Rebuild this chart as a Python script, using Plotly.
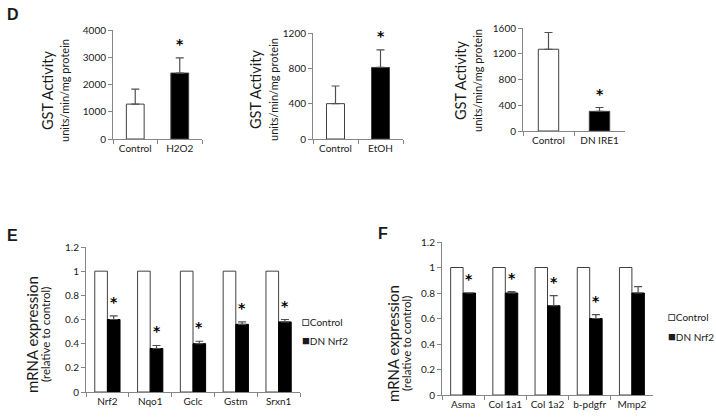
import plotly.graph_objects as go

W, H = 716, 419

# ---- data ----
d1_cats = ["Control", "H2O2"]
d1_vals = [1280, 2420]
d1_err = [550, 560]
d1_sig = [False, True]

d2_cats = ["Control", "EtOH"]
d2_vals = [400, 810]
d2_err = [200, 200]
d2_sig = [False, True]

d3_cats = ["Control", "DN IRE1"]
d3_vals = [1270, 305]
d3_err = [260, 60]
d3_sig = [False, True]

e_genes = ["Nrf2", "Nqo1", "Gclc", "Gstm", "Srxn1"]
e_control = [1, 1, 1, 1, 1]
e_dn = [0.60, 0.36, 0.40, 0.56, 0.58]
e_dn_err = [0.03, 0.025, 0.02, 0.02, 0.02]
e_sig = [True, True, True, True, True]

f_genes = ["Asma", "Col 1a1", "Col 1a2", "b-pdgfr", "Mmp2"]
f_control = [1, 1, 1, 1, 1]
f_dn = [0.80, 0.80, 0.70, 0.60, 0.80]
f_dn_err = [0.0, 0.01, 0.08, 0.03, 0.05]
f_sig = [True, True, True, True, False]

series_names = ["Control", "DN Nrf2"]

FONT = "Lato"
AXC = "#868686"
TXT = "#1a1a1a"
OUTL = "#404040"
ERRC = "#505050"
TICK_SIZE = 10


def xd(a, b):
    return [a / W, b / W]


def yd(top, bottom):
    return [1 - bottom / H, 1 - top / H]


fig = go.Figure()
STAR = dict(family="DejaVu Sans", size=14, color="#000000")
STAR_TEXT = "<b>*</b>"
STAR_SHIFT = 4

panels_d = [
    (d1_cats, d1_vals, d1_err, d1_sig, "x", "y"),
    (d2_cats, d2_vals, d2_err, d2_sig, "x2", "y2"),
    (d3_cats, d3_vals, d3_err, d3_sig, "x3", "y3"),
]
annotations = []
for cats, vals, errs, sig, xa, ya in panels_d:
    fig.add_trace(go.Bar(
        x=cats, y=vals, xaxis=xa, yaxis=ya, width=0.4,
        marker=dict(color=["white", "black"], line=dict(color=OUTL, width=1)),
        error_y=dict(type="data", symmetric=False, array=errs,
                     arrayminus=[0] * len(errs), color=ERRC, thickness=1.2, width=4),
        showlegend=False, hoverinfo="skip"))
    for i, s in enumerate(sig):
        if s:
            annotations.append(dict(x=i, y=vals[i] + errs[i], xref=xa, yref=ya,
                                    text=STAR_TEXT, showarrow=False, yanchor="bottom",
                                    yshift=STAR_SHIFT, font=STAR))

W_BAR = 0.295
for genes, ctrl, dn, err, sig, xa, ya in [
    (e_genes, e_control, e_dn, e_dn_err, e_sig, "x4", "y4"),
    (f_genes, f_control, f_dn, f_dn_err, f_sig, "x5", "y5"),
]:
    fig.add_trace(go.Bar(
        x=genes, y=ctrl, xaxis=xa, yaxis=ya, name=series_names[0], width=W_BAR,
        offset=-W_BAR, marker=dict(color="white", line=dict(color=OUTL, width=1)),
        showlegend=False, hoverinfo="skip"))
    fig.add_trace(go.Bar(
        x=genes, y=dn, xaxis=xa, yaxis=ya, name=series_names[1], width=W_BAR, offset=0,
        marker=dict(color="black", line=dict(color="black", width=1)),
        error_y=dict(type="data", symmetric=False, array=err,
                     arrayminus=[0] * len(err), color=ERRC, thickness=1.2, width=4),
        showlegend=False, hoverinfo="skip"))
    for i, s in enumerate(sig):
        if s:
            annotations.append(dict(x=i + W_BAR / 2, y=dn[i] + err[i], xref=xa, yref=ya,
                                    text=STAR_TEXT, showarrow=False, yanchor="bottom",
                                    yshift=STAR_SHIFT, font=STAR))


def xax(dom, n):
    return dict(domain=dom, type="category", range=[-0.5, n - 0.5], showline=True,
                linecolor=AXC, linewidth=1, ticks="outside", tickson="boundaries",
                ticklen=4, tickcolor=AXC, showgrid=False, zeroline=False, tickangle=0,
                automargin=False,
                tickfont=dict(family=FONT, size=TICK_SIZE, color=TXT), fixedrange=True)


def yax(dom, rng, dt, anchor):
    return dict(domain=dom, range=rng, dtick=dt, tick0=0, showline=True, linecolor=AXC,
                linewidth=1, ticks="outside", ticklen=4, tickcolor=AXC, showgrid=False,
                zeroline=False, anchor=anchor, automargin=False,
                tickfont=dict(family=FONT, size=TICK_SIZE, color=TXT), fixedrange=True)


lay = dict(
    width=W, height=H, margin=dict(l=0, r=0, t=0, b=0, autoexpand=False),
    paper_bgcolor="white", plot_bgcolor="white", barmode="group", showlegend=False,
    font=dict(family=FONT, color=TXT),
    xaxis=dict(**xax(xd(113, 202), 2), anchor="y"),
    yaxis=yax(yd(30, 139), [0, 4000], 1000, "x"),
    xaxis2=dict(**xax(xd(313, 403), 2), anchor="y2"),
    yaxis2=yax(yd(33, 139), [0, 1200], 400, "x2"),
    xaxis3=dict(**xax(xd(523, 625), 2), anchor="y3"),
    yaxis3=yax(yd(28, 131), [0, 1600], 400, "x3"),
    xaxis4=dict(**xax(xd(86, 300), 5), anchor="y4"),
    yaxis4=yax(yd(247, 392), [0, 1.2], 0.2, "x4"),
    xaxis5=dict(**xax(xd(442, 653), 5), anchor="y5"),
    yaxis5=yax(yd(242, 395), [0, 1.2], 0.2, "x5"),
)


def title2(x1, x2, yc, big, small, bs, ss):
    return [
        dict(x=x1 / W, y=1 - yc / H, xref="paper", yref="paper", text=big, textangle=-90,
             showarrow=False, xanchor="center", yanchor="middle",
             font=dict(family=FONT, size=bs, color=TXT)),
        dict(x=x2 / W, y=1 - yc / H, xref="paper", yref="paper", text=small, textangle=-90,
             showarrow=False, xanchor="center", yanchor="middle",
             font=dict(family=FONT, size=ss, color=TXT)),
    ]


annotations += title2(48, 65, 91, "GST Activity", "units/min/mg protein", 14.5, 11)
annotations += title2(255, 273, 90, "GST Activity", "units/min/mg protein", 14.5, 11)
annotations += title2(460, 477, 81, "GST Activity", "units/min/mg protein", 14.5, 11)
annotations += title2(32, 45, 335, "mRNA expression", "(relative to control)", 15, 11.5)
annotations += title2(393, 406, 344, "mRNA expression", "(relative to control)", 15, 11.5)

# legends (small square + label, Excel style)
SQ = "<span style='font-size:13px'>%s</span>"
for lx, ly1, ly2 in [(300, 321, 340), (666, 316, 336)]:
    annotations.append(dict(x=lx / W, y=1 - ly1 / H, xref="paper", yref="paper",
                            text=SQ % "\u25a1" + series_names[0], showarrow=False,
                            xanchor="left", yanchor="middle",
                            font=dict(family=FONT, size=TICK_SIZE, color=TXT)))
    annotations.append(dict(x=lx / W, y=1 - ly2 / H, xref="paper", yref="paper",
                            text=SQ % "\u25a0" + series_names[1], showarrow=False,
                            xanchor="left", yanchor="middle",
                            font=dict(family=FONT, size=TICK_SIZE, color=TXT)))

for lbl, x, y in [("D", 13, 14), ("E", 12, 235), ("F", 383, 233)]:
    annotations.append(dict(x=x / W, y=1 - y / H, xref="paper", yref="paper",
                            text="<b>%s</b>" % lbl, showarrow=False, xanchor="center",
                            yanchor="middle",
                            font=dict(family="Liberation Sans", size=16, color=TXT)))

lay["annotations"] = annotations
fig.update_layout(**lay)
fig.write_html(
    "out.html",
    config={"displayModeBar": False, "staticPlot": True},
    post_script="document.body.style.margin='0px';document.body.style.overflow='hidden';",
)
